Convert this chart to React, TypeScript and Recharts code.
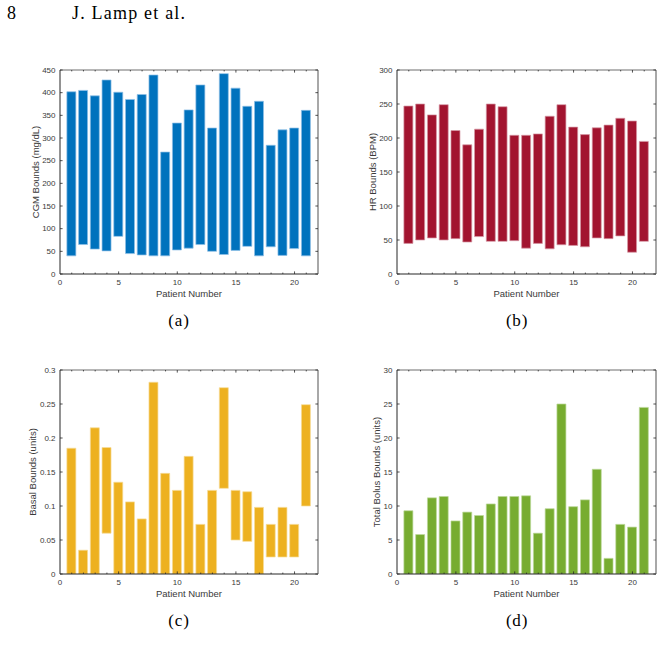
import React from 'react';
import { BarChart, Bar, XAxis, YAxis, Label } from 'recharts';

// ---- data ----
const patients = [1, 2, 3, 4, 5, 6, 7, 8, 9, 10, 11, 12, 13, 14, 15, 16, 17, 18, 19, 20, 21];

const cgmLow = [40, 65, 55, 51, 83, 45, 42, 40, 40, 53, 57, 65, 50, 43, 52, 61, 40, 60, 41, 56, 40];
const cgmHigh = [402, 405, 393, 428, 401, 385, 396, 439, 269, 333, 362, 417, 322, 442, 410, 370, 381, 284, 318, 322, 361];

const hrLow = [45, 50, 53, 50, 52, 47, 55, 48, 48, 49, 38, 45, 37, 43, 42, 40, 53, 52, 56, 32, 48];
const hrHigh = [247, 250, 234, 249, 211, 190, 213, 250, 246, 204, 204, 206, 232, 249, 216, 205, 215, 219, 229, 225, 195];

const basalLow = [0, 0, 0, 0.06, 0, 0, 0, 0, 0, 0, 0, 0, 0, 0.126, 0.05, 0.048, 0, 0.025, 0.025, 0.025, 0.1];
const basalHigh = [0.185, 0.035, 0.215, 0.186, 0.135, 0.106, 0.081, 0.282, 0.148, 0.123, 0.173, 0.073, 0.123, 0.274, 0.123, 0.121, 0.098, 0.073, 0.098, 0.073, 0.249];

const bolusLow = [0, 0, 0, 0, 0, 0, 0, 0, 0, 0, 0, 0, 0, 0, 0, 0, 0, 0, 0, 0, 0];
const bolusHigh = [9.3, 5.8, 11.2, 11.4, 7.8, 9.1, 8.6, 10.3, 11.4, 11.4, 11.5, 6.0, 9.6, 25.0, 9.9, 10.9, 15.4, 2.3, 7.3, 6.9, 24.5];

// tick values
const xTicks = [0, 1, 2, 3, 4, 5, 6, 7, 8, 9, 10, 11, 12, 13, 14, 15, 16, 17, 18, 19, 20, 21, 22];
const xLabelTicks = [0, 5, 10, 15, 20];
const cgmTicks = [0, 50, 100, 150, 200, 250, 300, 350, 400, 450];
const hrTicks = [0, 50, 100, 150, 200, 250, 300];
const basalTicks = [0, 0.05, 0.1, 0.15, 0.2, 0.25, 0.3];
const bolusTicks = [0, 5, 10, 15, 20, 25, 30];

const tableData = patients.map((p, i) => ({
  patient: p,
  cgm: [cgmLow[i], cgmHigh[i]],
  hr: [hrLow[i], hrHigh[i]],
  basal: [basalLow[i], basalHigh[i]],
  bolus: [bolusLow[i], bolusHigh[i]],
}));

const SANS = '"Liberation Sans", Arial, Helvetica, sans-serif';
const SERIF = '"Liberation Serif", "Times New Roman", serif';
const AX = '#262626';
const AX2 = '#6e6e6e';
const TXT = '#3a3a3a';
const MAJ = 2.6;
const MIN = 1.4;

const BottomTick = (props: any) => {
  const { x, y, payload } = props;
  const v = payload.value;
  const major = xLabelTicks.includes(v);
  if (v === 0 || v === 22) {
    return major ? (
      <text x={x} y={y + 10.5} textAnchor="middle" fontSize={8} fontFamily={SANS} fill={TXT}>{v}</text>
    ) : <g />;
  }
  return (
    <g>
      <line x1={x} x2={x} y1={y} y2={y - (major ? MAJ : MIN)} stroke={AX} strokeWidth={0.8} />
      {major && (
        <text x={x} y={y + 10.5} textAnchor="middle" fontSize={8} fontFamily={SANS} fill={TXT}>{v}</text>
      )}
    </g>
  );
};

const TopTick = (props: any) => {
  const { x, y, payload } = props;
  const v = payload.value;
  if (v === 0 || v === 22) return <g />;
  const major = xLabelTicks.includes(v);
  return <line x1={x} x2={x} y1={y} y2={y + (major ? MAJ : MIN)} stroke={AX} strokeWidth={0.8} />;
};

const LeftTick = (props: any) => {
  const { x, y, payload } = props;
  return (
    <g>
      <line x1={x} x2={x + MAJ} y1={y} y2={y} stroke={AX} strokeWidth={0.8} />
      <text x={x - 4.5} y={y} dy="0.35em" textAnchor="end" fontSize={8} fontFamily={SANS} fill={TXT}>
        {String(payload.value)}
      </text>
    </g>
  );
};

const RightTick = (props: any) => {
  const { x, y } = props;
  return <line x1={x} x2={x - MAJ} y1={y} y2={y} stroke={AX} strokeWidth={0.8} />;
};

const yLabel = (text: string, d: number) => (props: any) => {
  const vb = props.viewBox || {};
  const cx = vb.x + vb.width - d;
  const cy = vb.y + vb.height / 2;
  return (
    <text x={cx} y={cy} dy="0.35em" textAnchor="middle" transform={`rotate(-90, ${cx}, ${cy})`}
      fontSize={9.5} fontFamily={SANS} fill={TXT}>{text}</text>
  );
};

const xLabel = (props: any) => {
  const vb = props.viewBox || {};
  const cx = vb.x + vb.width / 2;
  return (
    <text x={cx} y={vb.y + 23} textAnchor="middle" fontSize={9.5} fontFamily={SANS} fill={TXT}>
      Patient Number
    </text>
  );
};

type PanelProps = {
  left: number;
  top: number;
  width: number;
  marginLeft: number;
  marginRight: number;
  dataKey: string;
  color: string;
  edge: string;
  yTicks: number[];
  yDomain: [number, number];
  label: string;
  labelDist: number;
};

const Panel = (p: PanelProps) => (
  <div style={{ position: 'absolute', left: p.left, top: p.top, width: p.width, height: 290 }}>
    <BarChart
      width={p.width}
      height={290}
      data={tableData}
      margin={{ top: 28, right: p.marginRight, bottom: 36, left: p.marginLeft }}
    >
      <XAxis
        xAxisId="b"
        dataKey="patient"
        type="number"
        domain={[0, 22]}
        ticks={xTicks}
        interval={0}
        tickSize={0}
        tickMargin={0}
        tickLine={false}
        tick={<BottomTick />}
        height={20}
        axisLine={{ stroke: AX, strokeWidth: 1 }}
        allowDataOverflow
      >
        <Label content={xLabel} />
      </XAxis>
      <XAxis
        xAxisId="t"
        orientation="top"
        dataKey="patient"
        type="number"
        domain={[0, 22]}
        ticks={xTicks}
        interval={0}
        tickSize={0}
        tickMargin={0}
        tickLine={false}
        tick={<TopTick />}
        height={2}
        axisLine={{ stroke: AX2, strokeWidth: 1.2 }}
        allowDataOverflow
      />
      <YAxis
        yAxisId="l"
        type="number"
        domain={p.yDomain}
        ticks={p.yTicks}
        interval={0}
        tickSize={0}
        tickMargin={0}
        tickLine={false}
        tick={<LeftTick />}
        width={50}
        axisLine={{ stroke: AX, strokeWidth: 1 }}
        allowDataOverflow
      >
        <Label content={yLabel(p.label, p.labelDist)} />
      </YAxis>
      <YAxis
        yAxisId="r"
        orientation="right"
        type="number"
        domain={p.yDomain}
        ticks={p.yTicks}
        interval={0}
        tickSize={0}
        tickMargin={0}
        tickLine={false}
        tick={<RightTick />}
        width={2}
        axisLine={{ stroke: AX2, strokeWidth: 1.2 }}
        allowDataOverflow
      />
      <Bar
        xAxisId="b"
        yAxisId="l"
        dataKey={p.dataKey}
        fill={p.color}
        stroke={p.edge}
        strokeWidth={0.7}
        barSize={9}
        isAnimationActive={false}
      />
    </BarChart>
  </div>
);

export default function App() {
  return (
    <div style={{ position: 'absolute', left: 0, top: 0, width: 664, height: 662, background: '#fff' }}>
      <svg width={664} height={662} style={{ position: 'absolute', left: 0, top: 0 }}>
        <text x={7} y={19} fontSize={18} fontFamily={SERIF} fill="#000">8</text>
        <text x={72} y={19} fontSize={18} letterSpacing={1.2} fontFamily={SERIF} fill="#000">J. Lamp et al.</text>
        <text x={179} y={326} textAnchor="middle" fontSize={17} letterSpacing={0.8} fontFamily={SERIF} fill="#000">(a)</text>
        <text x={517} y={326} textAnchor="middle" fontSize={17} letterSpacing={0.8} fontFamily={SERIF} fill="#000">(b)</text>
        <text x={179} y={626} textAnchor="middle" fontSize={17} letterSpacing={0.8} fontFamily={SERIF} fill="#000">(c)</text>
        <text x={517} y={626} textAnchor="middle" fontSize={17} letterSpacing={0.8} fontFamily={SERIF} fill="#000">(d)</text>
      </svg>
      <Panel left={0} top={40} width={340} marginLeft={10} marginRight={20} dataKey="cgm"
        color="#0072BD" edge="#8fc0e6" yTicks={cgmTicks} yDomain={[0, 450]}
        label="CGM Bounds (mg/dL)" labelDist={24.3} />
      <Panel left={330} top={40} width={334} marginLeft={17} marginRight={6} dataKey="hr"
        color="#A2142F" edge="#d79aa6" yTicks={hrTicks} yDomain={[0, 300]}
        label="HR Bounds (BPM)" labelDist={24.5} />
      <Panel left={0} top={340} width={340} marginLeft={10} marginRight={20} dataKey="basal"
        color="#EDB120" edge="#f7dc99" yTicks={basalTicks} yDomain={[0, 0.3]}
        label="Basal Bounds (units)" labelDist={27} />
      <Panel left={330} top={340} width={334} marginLeft={17} marginRight={6} dataKey="bolus"
        color="#77AC30" edge="#bcd89a" yTicks={bolusTicks} yDomain={[0, 30]}
        label="Total Bolus Bounds (units)" labelDist={20} />
    </div>
  );
}
